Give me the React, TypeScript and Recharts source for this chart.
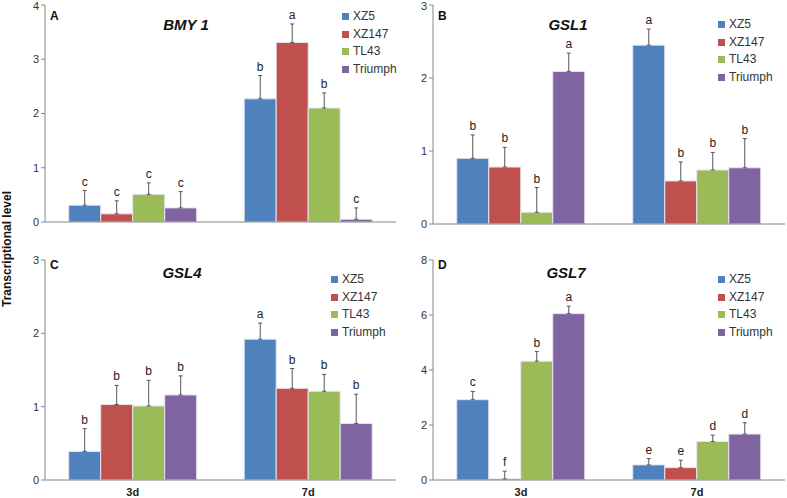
import { BarChart, Bar, XAxis, YAxis, ErrorBar, LabelList, Legend } from 'recharts';

const periods = ['3d', '7d'];
const cultivars = ['XZ5', 'XZ147', 'TL43', 'Triumph'];
const colors = ['#4F81BD', '#C0504D', '#9BBB59', '#8064A2'];

// BMY 1 (panel A)
const bmyMean = [[0.31, 0.15, 0.51, 0.26], [2.27, 3.31, 2.1, 0.05]];
const bmyErr = [[0.27, 0.24, 0.21, 0.3], [0.43, 0.34, 0.28, 0.21]];
const bmyLetters = [['c', 'c', 'c', 'c'], ['b', 'a', 'b', 'c']];

// GSL1 (panel B)
const gsl1Mean = [[0.9, 0.78, 0.16, 2.09], [2.45, 0.59, 0.74, 0.77]];
const gsl1Err = [[0.32, 0.27, 0.34, 0.25], [0.22, 0.26, 0.24, 0.4]];
const gsl1Letters = [['b', 'b', 'b', 'a'], ['a', 'b', 'b', 'b']];

// GSL4 (panel C)
const gsl4Mean = [[0.39, 1.03, 1.01, 1.16], [1.92, 1.25, 1.21, 0.77]];
const gsl4Err = [[0.31, 0.26, 0.35, 0.26], [0.22, 0.27, 0.23, 0.4]];
const gsl4Letters = [['b', 'b', 'b', 'b'], ['a', 'b', 'b', 'b']];

// GSL7 (panel D)
const gsl7Mean = [[2.92, 0.04, 4.32, 6.05], [0.55, 0.45, 1.4, 1.67]];
const gsl7Err = [[0.3, 0.28, 0.35, 0.27], [0.23, 0.27, 0.23, 0.41]];
const gsl7Letters = [['c', 'f', 'b', 'a'], ['e', 'e', 'd', 'd']];

const buildRows = (mean: number[][], err: number[][], letters: string[][]) =>
  periods.map((p, i) => {
    const row: any = { period: p };
    cultivars.forEach((c, j) => {
      row[c] = mean[i][j];
      row[c + '_e'] = err[i][j];
      row[c + '_err'] = [0, err[i][j]];
      row[c + '_l'] = letters[i][j];
    });
    return row;
  });

const FONT = '"Liberation Sans", Arial, sans-serif';
const AXIS = '#868686';

// letter drawn just above the (transparent) error segment
const Letter = ({ x, y, width, value }: any) => (
  <text x={x + width / 2} y={y - 5} textAnchor="middle" fill="#222" fontSize={12} fontFamily={FONT}>
    {value}
  </text>
);

interface PanelProps {
  rows: any[];
  left: number;
  top: number;
  width: number;
  height: number;
  margin: { top: number; right: number; left: number; bottom: number };
  yWidth: number;
  xHeight: number;
  yMax: number;
  yTicks: number[];
  showCats: boolean;
  legendPos: { left: number; top: number };
}

const Panel = ({ rows, left, top, width, height, margin, yWidth, xHeight, yMax, yTicks, showCats, legendPos }: PanelProps) => (
  <div style={{ position: 'absolute', left, top, width, height }}>
    <BarChart width={width} height={height} data={rows} margin={margin} barCategoryGap="13.5%" barGap={0}>
      {/* boundary tick marks between the two groups */}
      <XAxis
        xAxisId={0}
        type="number"
        domain={[0, 2]}
        ticks={[0, 1, 2]}
        height={0}
        axisLine={false}
        tick={false}
        tickSize={5}
        tickLine={{ stroke: AXIS }}
      />
      <XAxis
        xAxisId="cat"
        dataKey="period"
        axisLine={{ stroke: AXIS }}
        tickLine={false}
        height={xHeight}
        tick={showCats ? { fill: '#222', fontSize: 11, fontWeight: 'bold' } : false}
        interval={0}
      />
      <XAxis xAxisId="top" orientation="top" dataKey="period" height={0} tick={false} tickLine={false} axisLine={{ stroke: AXIS }} />
      <YAxis
        domain={[0, yMax]}
        ticks={yTicks}
        width={yWidth}
        axisLine={{ stroke: AXIS }}
        tickLine={{ stroke: AXIS }}
        tickSize={4}
        tick={{ fill: '#333', fontSize: 11 }}
        allowDataOverflow
      />
      <YAxis yAxisId="right" orientation="right" domain={[0, yMax]} width={0} tick={false} tickLine={false} axisLine={{ stroke: AXIS }} />
      <Legend
        layout="vertical"
        align="center"
        verticalAlign="middle"
        iconType="square"
        iconSize={7}
        itemSorter={(item: any) => cultivars.indexOf(item.value)}
        wrapperStyle={{ left: legendPos.left, top: legendPos.top, width: 'auto', height: 'auto', fontSize: 12, lineHeight: '17.5px', fontFamily: FONT }}
        formatter={(v: any) => <span style={{ color: '#333' }}>{v}</span>}
      />
      {cultivars.flatMap((c, j) => [
        <Bar key={c} xAxisId="cat" dataKey={c} stackId={c} fill={colors[j]} stroke="#E4E4EE" strokeWidth={1} isAnimationActive={false}>
          <ErrorBar dataKey={c + '_err'} width={2} stroke="#555" strokeWidth={1} direction="y" />
        </Bar>,
        <Bar key={c + '_e'} xAxisId="cat" dataKey={c + '_e'} stackId={c} fill="transparent" legendType="none" isAnimationActive={false}>
          <LabelList dataKey={c + '_l'} content={Letter} />
        </Bar>,
      ])}
    </BarChart>
  </div>
);

export default function App() {
  return (
    <div style={{ position: 'absolute', left: 0, top: 0, width: 787, height: 498, background: '#fff', fontFamily: FONT }}>
      <Panel
        rows={buildRows(bmyMean, bmyErr, bmyLetters)}
        left={0} top={0} width={398} height={240}
        margin={{ top: 5, right: 2, left: 0, bottom: 0 }}
        yWidth={45} xHeight={18} yMax={4} yTicks={[0, 1, 2, 3, 4]} showCats={false}
        legendPos={{ left: 342, top: 8 }}
      />
      <Panel
        rows={buildRows(gsl1Mean, gsl1Err, gsl1Letters)}
        left={390} top={0} width={397} height={240}
        margin={{ top: 5, right: 2, left: 0, bottom: 0 }}
        yWidth={43} xHeight={16} yMax={3} yTicks={[0, 1, 2, 3]} showCats={false}
        legendPos={{ left: 328, top: 16 }}
      />
      <Panel
        rows={buildRows(gsl4Mean, gsl4Err, gsl4Letters)}
        left={0} top={248} width={398} height={250}
        margin={{ top: 12, right: 2, left: 0, bottom: 0 }}
        yWidth={45} xHeight={18} yMax={3} yTicks={[0, 1, 2, 3]} showCats={true}
        legendPos={{ left: 331, top: 23 }}
      />
      <Panel
        rows={buildRows(gsl7Mean, gsl7Err, gsl7Letters)}
        left={390} top={248} width={397} height={250}
        margin={{ top: 12, right: 2, left: 0, bottom: 0 }}
        yWidth={43} xHeight={18} yMax={8} yTicks={[0, 2, 4, 6, 8]} showCats={true}
        legendPos={{ left: 328, top: 23 }}
      />
      <svg width={787} height={498} style={{ position: 'absolute', left: 0, top: 0, pointerEvents: 'none' }}>
        <g fontFamily={FONT} fontWeight="bold" fill="#111">
          <text x={50} y={20} fontSize={12}>A</text>
          <text x={438} y={20} fontSize={12}>B</text>
          <text x={50} y={269} fontSize={12}>C</text>
          <text x={438} y={269} fontSize={12}>D</text>
          <text x={186} y={30} fontSize={15} fontStyle="italic" textAnchor="middle">BMY 1</text>
          <text x={568} y={30} fontSize={15} fontStyle="italic" textAnchor="middle">GSL1</text>
          <text x={182} y={278} fontSize={15} fontStyle="italic" textAnchor="middle">GSL4</text>
          <text x={566} y={278} fontSize={15} fontStyle="italic" textAnchor="middle">GSL7</text>
          <text x={0} y={0} fontSize={12} textAnchor="middle" transform="translate(11,249) rotate(-90)">Transcriptional level</text>
        </g>
      </svg>
    </div>
  );
}
